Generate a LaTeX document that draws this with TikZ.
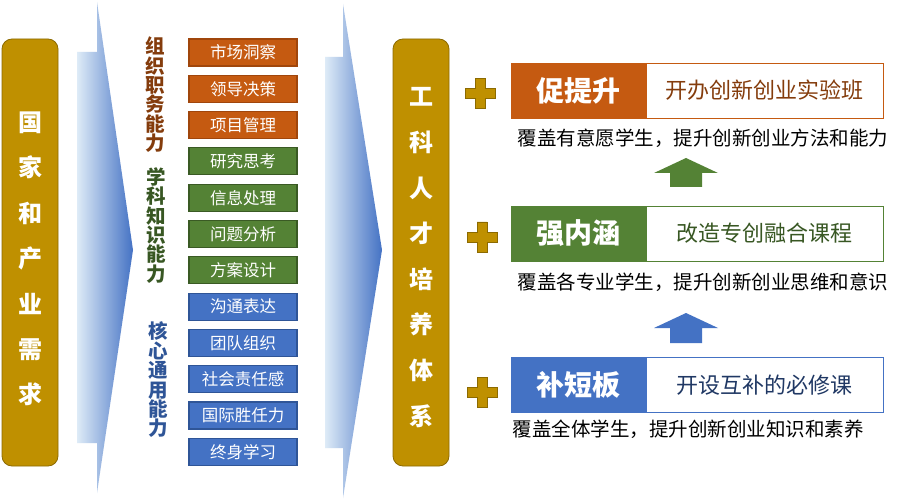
\documentclass[tikz,border=0pt]{standalone}
\usepackage{fontspec}
\setmainfont{Noto Sans CJK SC}
\definecolor{gold}{HTML}{BF9000}
\definecolor{goldd}{HTML}{8C6A00}
\definecolor{orgc}{HTML}{C55A11}
\definecolor{orgd}{HTML}{A0460C}
\definecolor{grnc}{HTML}{548235}
\definecolor{grnd}{HTML}{3A5A24}
\definecolor{bluc}{HTML}{4472C4}
\definecolor{blud}{HTML}{2F5597}
\definecolor{palebl}{HTML}{DEEBF7}
\definecolor{orgt}{HTML}{843C0C}
\definecolor{grnt}{HTML}{385723}
\definecolor{blut}{HTML}{203864}
\makeatletter
\newcommand\vstackchars[1]{\vbox{\lineskiplimit=-100pt\relax
  \@tfor\vs@c:=#1\do{\hbox{\raisebox{0pt}[14.6pt][4.8pt]{\vs@c}}}}}
\makeatother
\tikzset{
  goldbox/.style={draw=goldd, fill=gold, line width=0.8pt, rounded corners=10pt,
    minimum width=56pt, minimum height=427pt, inner sep=0pt},
  goldtext/.style={text=white, align=center, font=\bfseries\fontsize{24}{45.4}\selectfont, inner sep=0pt},
  vlabel/.style={font=\bfseries\fontsize{19.5}{19.4}\selectfont, inner sep=0pt},
  smallbox/.style={minimum width=108pt, minimum height=27pt, inner sep=0pt, draw,
    line width=1.2pt, text=white, font=\fontsize{16.5}{16.5}\selectfont},
  obox/.style={smallbox, fill=orgc, draw=orgd},
  gbox/.style={smallbox, fill=grnc, draw=grnd},
  bbox/.style={smallbox, fill=bluc, draw=blud},
  headbox/.style={minimum width=135pt, minimum height=55pt, inner sep=0pt, line width=0.9pt,
    text=white, font=\bfseries\fontsize{28}{28}\selectfont},
  descbox/.style={minimum width=237pt, minimum height=55pt, inner sep=0pt, line width=0.9pt,
    fill=white, font=\fontsize{22}{22}\selectfont},
  caption/.style={inner sep=0pt, text=black, font=\fontsize{19.5}{19.5}\selectfont},
  plussign/.pic={\draw[fill=gold, draw=goldd, line width=0.8pt]
    (-5,-15) -- (5,-15) -- (5,-5) -- (15,-5) -- (15,5) -- (5,5) -- (5,15) -- (-5,15)
    -- (-5,5) -- (-15,5) -- (-15,-5) -- (-5,-5) -- cycle;},
}
\begin{document}
\lineskiplimit=-100pt\relax
\begin{tikzpicture}[x=1pt,y=-1pt]
\useasboundingbox[fill=white] (0,0) rectangle (903,500);

% big chevron arrows
\shade[left color=palebl, right color=bluc]
  (77,52) -- (97,52) -- (97,2) -- (133,250) -- (97,493) -- (97,443) -- (77,443) -- cycle;
\shade[left color=palebl, right color=bluc]
  (325,57) -- (343,57) -- (343,4) -- (382,250) -- (343,498) -- (343,448) -- (325,448) -- cycle;

% gold boxes
\node[goldbox] (g1) at (30,252.5) {};
\node[goldtext] (g1t) at (30,259) {国\\家\\和\\产\\业\\需\\求};
\node[goldbox] (g2) at (421,252.5) {};
\node[goldtext, font=\bfseries\fontsize{24}{45.6}\selectfont] (g2t) at (421,257.5) {工\\科\\人\\才\\培\\养\\体\\系};

% vertical labels
\node[vlabel, text=orgt] (v1) at (155,97.4) {\vstackchars{组织职务能力}};
\node[vlabel, text=grnt] (v2) at (156,227.9) {\vstackchars{学科知识能力}};
\node[vlabel, text=blud] (v3) at (158,382.4) {\vstackchars{核心通用能力}};

% small boxes
\node[obox] (s1) at (243,52.5) {市场洞察};
\node[obox] (s2) at (243,88.8) {领导决策};
\node[obox] (s3) at (243,125.1) {项目管理};
\node[gbox] (s4) at (243,161.4) {研究思考};
\node[gbox] (s5) at (243,197.7) {信息处理};
\node[gbox] (s6) at (243,234.0) {问题分析};
\node[gbox] (s7) at (243,270.3) {方案设计};
\node[bbox] (s8) at (243,306.6) {沟通表达};
\node[bbox] (s9) at (243,342.9) {团队组织};
\node[bbox] (s10) at (243,379.2) {社会责任感};
\node[bbox] (s11) at (243,415.5) {国际胜任力};
\node[bbox] (s12) at (243,451.8) {终身学习};

% plus signs
\pic at (480,93.5) {plussign};
\pic at (482,237) {plussign};
\pic at (482,392.5) {plussign};

% right boxes
\node[headbox, fill=orgc, draw=orgc] (h1) at (578.5,90.5) {促提升};
\node[descbox, draw=orgc, text=orgt] (d1) at (764.5,90.5) {开办创新创业实验班};
\node[caption] (c1) at (703,138) {覆盖有意愿学生，提升创新创业方法和能力};

\node[headbox, fill=grnc, draw=grnc] (h2) at (578.5,233.5) {强内涵};
\node[descbox, draw=grnc, text=grnt] (d2) at (764.5,233.5) {改造专创融合课程};
\node[caption] (c2) at (703,282) {覆盖各专业学生，提升创新创业思维和意识};

\node[headbox, fill=bluc, draw=bluc] (h3) at (578.5,385) {补短板};
\node[descbox, draw=bluc, text=blut] (d3) at (764.5,385) {开设互补的必修课};
\node[caption] (c3) at (688,429) {覆盖全体学生，提升创新创业知识和素养};

% up arrows
\fill[grnc] (670,187) -- (670,173) -- (654,173) -- (686,158) -- (718,173) -- (702,173) -- (702,187) -- cycle;
\fill[bluc] (670,343) -- (670,328) -- (654,328) -- (686,313) -- (718,328) -- (702,328) -- (702,343) -- cycle;
\end{tikzpicture}
\end{document}
